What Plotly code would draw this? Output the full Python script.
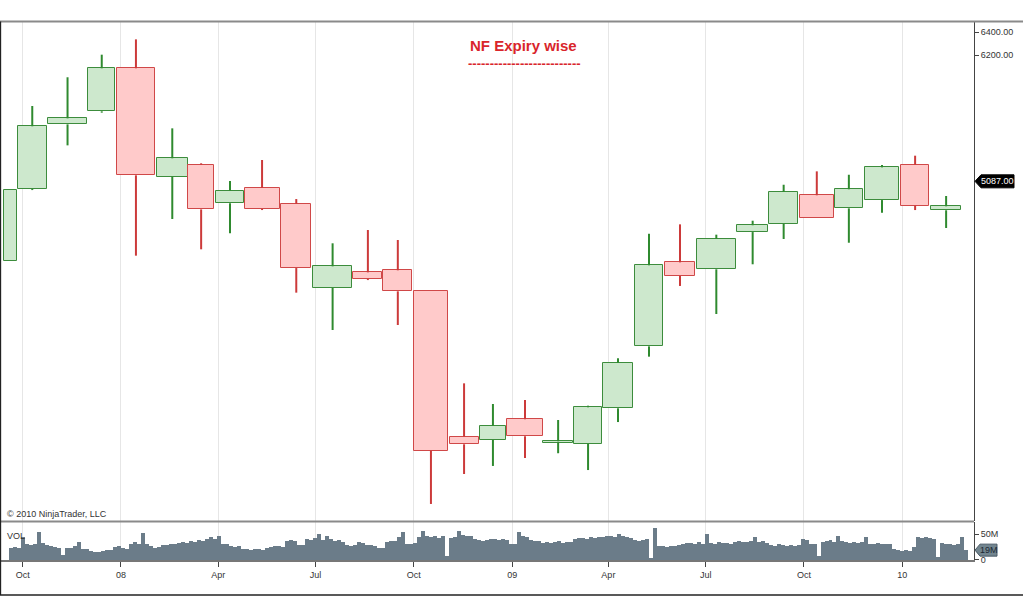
import pandas as pd
import plotly.graph_objects as go
from plotly.subplots import make_subplots

# NF monthly candles, one per expiry
dates = ["2007-09-20", "2007-10-10", "2007-11-12", "2007-12-14", "2008-01-15", "2008-02-18",
         "2008-03-16", "2008-04-12", "2008-05-12", "2008-06-13", "2008-07-17", "2008-08-19",
         "2008-09-16", "2008-10-17", "2008-11-17", "2008-12-14", "2009-01-13", "2009-02-13",
         "2009-03-13", "2009-04-10", "2009-05-09", "2009-06-07", "2009-07-11", "2009-08-14",
         "2009-09-12", "2009-10-13", "2009-11-12", "2009-12-13", "2010-01-13", "2010-02-11"]
opens = [4388, 5019, 5589, 5704, 6083, 5128, 5233, 4893, 5028, 4890, 4147, 4285, 4303, 4121, 2837,
         2808, 2990, 2784, 2775, 3087, 3633, 4373, 4312, 4640, 4711, 4964, 4849, 4922, 5233, 4832]
highs = [5010, 5751, 6004, 6203, 6338, 5554, 5246, 5090, 5275, 4931, 4541, 4658, 4570, 4121, 3307,
         3125, 3160, 2984, 3110, 3528, 4625, 4708, 4617, 4740, 5057, 5175, 5145, 5231, 5313, 4958]
lows = [4388, 5010, 5404, 5692, 4432, 4755, 4488, 4629, 4834, 4106, 3777, 4217, 3821, 2244, 2508,
        2579, 2649, 2691, 2543, 2966, 3542, 4165, 3918, 4356, 4579, 4761, 4546, 4810, 4834, 4676]
closes = [5010, 5572, 5642, 6083, 5140, 5290, 4840, 5004, 4843, 4323, 4338, 4226, 4118, 2713, 2770,
          2931, 2840, 2796, 3096, 3486, 4347, 4253, 4579, 4700, 4993, 4761, 5017, 5210, 4872, 4867]
# bodies are not all the same width in this chart (days)
body_days = [12.2, 27.1, 35.9, 25.6, 36.1, 28.6, 24, 25.3, 32.7, 28.3, 36.5, 27.1, 27.1, 31.5, 27.1,
             24.7, 33, 27.4, 25.6, 28.6, 27.1, 28.4, 35.9, 28.7, 27.4, 31.8, 26.8, 32.7, 25.8, 28.3]

# volume, millions
vol_m = [23, 25, 24, 44, 31, 29, 31, 54, 33, 28,
         27, 25, 23, 9, 23, 24, 27, 35, 22, 21,
         17, 15, 16, 18, 20, 19, 25, 27, 23, 22,
         30, 34, 31, 52, 31, 26, 23, 25, 28, 29,
         31, 30, 33, 34, 32, 36, 35, 38, 37, 40,
         45, 40, 47, 31, 30, 27, 25, 26, 21, 22,
         20, 22, 21, 20, 23, 25, 27, 26, 25, 37,
         38, 37, 28, 29, 41, 39, 42, 50, 39, 46,
         40, 36, 38, 35, 28, 27, 29, 34, 33, 28,
         28, 27, 24, 23, 34, 36, 37, 45, 53, 31,
         31, 33, 44, 56, 46, 44, 46, 43, 47, 8,
         42, 44, 56, 48, 46, 47, 40, 38, 37, 39,
         40, 41, 38, 40, 39, 31, 30, 53, 47, 45,
         38, 36, 37, 33, 35, 32, 34, 36, 33, 35,
         34, 40, 42, 43, 41, 44, 42, 45, 44, 47,
         46, 44, 50, 47, 45, 42, 38, 37, 39, 40,
         4, 62, 27, 26, 25, 27, 26, 28, 31, 33,
         32, 30, 34, 31, 50, 33, 31, 34, 32, 33,
         31, 34, 36, 35, 34, 37, 45, 35, 36, 33,
         29, 27, 30, 28, 26, 29, 27, 28, 40, 38,
         31, 30, 8, 35, 36, 38, 35, 47, 36, 34,
         33, 35, 32, 34, 44, 31, 30, 32, 31, 30,
         30, 21, 19, 18, 20, 17, 25, 44, 42, 45,
         42, 40, 5, 32, 30, 31, 29, 30, 45, 19]
vol_start, vol_end = "2007-09-20", "2010-03-02"

tick_dates = ["2007-10-01", "2008-01-01", "2008-04-01", "2008-07-01", "2008-10-01",
              "2009-01-01", "2009-04-01", "2009-07-01", "2009-10-01", "2010-01-01"]
tick_text = ["Oct", "08", "Apr", "Jul", "Oct", "09", "Apr", "Jul", "Oct", "10"]

FONT = "Liberation Sans, Arial, sans-serif"
DAY_MS = 86400000

df = pd.DataFrame({"date": pd.to_datetime(dates), "o": opens, "h": highs, "l": lows, "c": closes})
df["up"] = df["c"] >= df["o"]
df["top"] = df[["o", "c"]].max(axis=1)
df["bot"] = df[["o", "c"]].min(axis=1)

fig = make_subplots(rows=2, cols=1, shared_xaxes=True, vertical_spacing=0.0)

# wicks (drawn above and below the body so the body stays clean)
for up, col in [(True, "#2f8a2f"), (False, "#cc3a3a")]:
    xs, ys = [], []
    for _, r in df[df["up"] == up].iterrows():
        xs += [r["date"], r["date"], None, r["date"], r["date"], None]
        ys += [r["top"], r["h"], None, r["l"], r["bot"], None]
    fig.add_trace(go.Scatter(x=xs, y=ys, mode="lines", line=dict(color=col, width=2),
                             hoverinfo="skip", showlegend=False), row=1, col=1)

fig.add_trace(go.Bar(x=df["date"], y=(df["top"] - df["bot"]).clip(lower=4), base=df["bot"],
                     width=[w * DAY_MS for w in body_days],
                     marker=dict(color=["#cde8cd" if u else "#ffcaca" for u in df["up"]],
                                 line=dict(color=["#3c8c3c" if u else "#d04848" for u in df["up"]],
                                           width=1)),
                     showlegend=False), row=1, col=1)

vx = pd.date_range(vol_start, vol_end, periods=len(vol_m))
fig.add_trace(go.Bar(x=vx, y=[v * 1e6 for v in vol_m],
                     width=(vx[1] - vx[0]).total_seconds() * 1000,
                     marker=dict(color="#6b7c89", line=dict(width=0)),
                     showlegend=False), row=2, col=1)

xcommon = dict(type="date", range=["2007-09-10 18:00", "2010-03-09 02:00"],
               tickvals=tick_dates, ticktext=tick_text, showgrid=True,
               gridcolor="#e6e6e6", gridwidth=1, zeroline=False)
fig.update_xaxes(**xcommon)
fig.update_xaxes(showticklabels=False, ticks="", row=1, col=1)
fig.update_xaxes(showline=True, linecolor="#777", linewidth=2, ticks="outside", ticklen=5,
                 tickcolor="#444", tickfont=dict(family=FONT, size=9, color="#333"), row=2, col=1)

fig.update_layout(
    width=1023, height=596,
    margin=dict(l=1, r=49, t=22, b=36),
    paper_bgcolor="white", plot_bgcolor="white",
    barmode="overlay", bargap=0,
    showlegend=False,
    yaxis=dict(domain=[0.0725, 1], range=[2094, 6491], side="right",
               tickvals=[6200, 6400], ticktext=["6200.00", "6400.00"],
               ticks="outside", ticklen=4, tickcolor="#444", showgrid=False, zeroline=False,
               showline=True, linecolor="#444", linewidth=1,
               tickfont=dict(family=FONT, size=9, color="#333")),
    yaxis2=dict(domain=[0, 0.0706], range=[0, 73.1e6], side="right",
                tickvals=[0, 50e6], ticktext=["0", "50M"],
                ticks="outside", ticklen=4, tickcolor="#444", showgrid=False, zeroline=False,
                showline=True, linecolor="#444", linewidth=1,
                tickfont=dict(family=FONT, size=9, color="#333")),
)

shapes = [
    # frame
    dict(type="line", xref="paper", yref="paper", x0=-0.002, x1=1.06, y0=1.0008, y1=1.0008,
         line=dict(color="#8a8a8a", width=2)),
    dict(type="line", xref="paper", yref="paper", x0=0, x1=1, y0=0.0716, y1=0.0716,
         line=dict(color="#8a8a8a", width=2)),
    dict(type="line", xref="paper", yref="paper", x0=-0.0006, x1=-0.0006, y0=1.0008, y1=-0.065,
         line=dict(color="#222", width=1.5)),
    dict(type="line", xref="paper", yref="paper", x0=-0.002, x1=1.06, y0=-0.065, y1=-0.065,
         line=dict(color="#222", width=1.5)),
    # last price marker
    dict(type="path", xref="paper", yref="y", xsizemode="pixel", ysizemode="pixel",
         xanchor=1, yanchor=5087, path="M1,0 L7,-6.5 L40,-6.5 L40,6.5 L7,6.5 Z",
         fillcolor="black", line=dict(color="black", width=1)),
    # last volume marker
    dict(type="path", xref="paper", yref="y2", xsizemode="pixel", ysizemode="pixel",
         xanchor=1, yanchor=19e6, path="M1,0 L6,-6 L23,-6 L23,6 L6,6 Z",
         fillcolor="#72858f", line=dict(color="#4a5a66", width=1)),
]
fig.update_layout(shapes=shapes)

annotations = [
    dict(text="<b>NF Expiry wise</b>", xref="paper", yref="paper", x=0.5375, y=0.9554,
         font=dict(family=FONT, size=15, color="#d9252b")),
    dict(text="<b>" + "-" * 26 + "</b>", xref="paper", yref="paper", x=0.5385, y=0.9229,
         font=dict(family=FONT, size=13, color="#d9252b")),
    dict(text="© 2010 NinjaTrader, LLC", xref="paper", yref="paper", x=0.0041, y=0.0846,
         xanchor="left", font=dict(family=FONT, size=9, color="#333")),
    dict(text="VOL", xref="paper", yref="paper", x=0.0041, y=0.0446,
         xanchor="left", font=dict(family=FONT, size=9, color="#333")),
    dict(text="5087.00", xref="paper", yref="y", x=1, y=5087, xanchor="left", xshift=5,
         font=dict(family=FONT, size=9, color="white")),
    dict(text="19M", xref="paper", yref="y2", x=1, y=19e6, xanchor="left", xshift=4,
         font=dict(family=FONT, size=9, color="#1c2833")),
]
for a in annotations:
    a.update(showarrow=False, yanchor="middle")
fig.update_layout(annotations=annotations)

# page body has a default 8px margin, drop it so the chart sits at 0,0
fig.write_html("out.html", config={"displayModeBar": False},
               post_script="document.body.style.margin='0';")
